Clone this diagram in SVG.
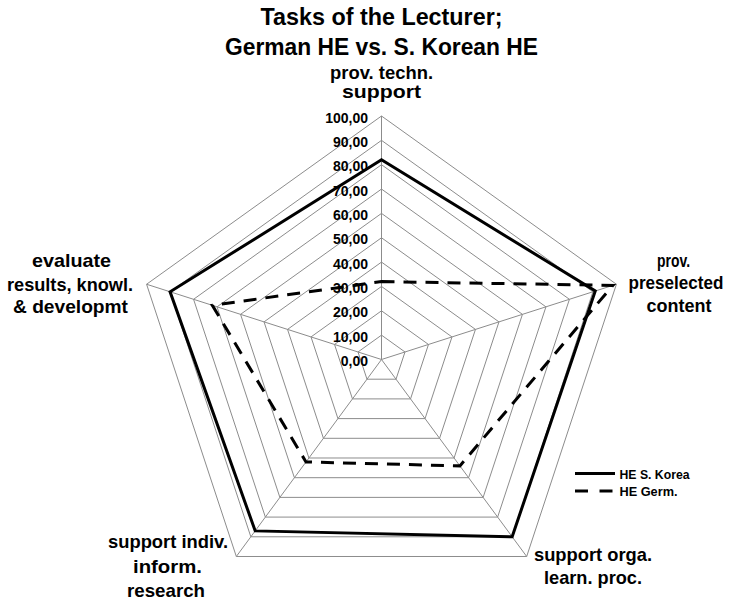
<svg xmlns="http://www.w3.org/2000/svg" width="732" height="604" viewBox="0 0 732 604">
  <style>
    .grid { fill: none; stroke: #8c8c8c; stroke-width: 1; }
    .txt { font-family: "Liberation Sans", Arial, sans-serif; font-weight: bold; fill: #000; }
    .title { font-size: 24.5px; text-anchor: middle; }
    .axis { font-size: 19px; text-anchor: middle; }
    .tick { font-size: 14px; text-anchor: end; }
    .leg { font-size: 12.5px; }
    .series { fill: none; stroke: #000; stroke-width: 3; stroke-linejoin: miter; }
    .dash { stroke-dasharray: 13 9; }
  </style>
  <rect width="732" height="604" fill="#fff"/>

  <!-- title -->
  <g id="title" class="txt title">
    <text x="381.5" y="25" textLength="242" lengthAdjust="spacingAndGlyphs">Tasks of the Lecturer;</text>
    <text x="381.5" y="55" textLength="313" lengthAdjust="spacingAndGlyphs">German HE vs. S. Korean HE</text>
  </g>

  <!-- radar grid: centre (381.5,359.5), rings every 10 units -->
  <g id="grid" class="grid">
    <polygon points="381.5,335.15 404.99,351.98 396.02,379.2 366.98,379.2 358.01,351.98"/>
    <polygon points="381.5,310.8 428.48,344.45 410.54,398.9 352.46,398.9 334.52,344.45"/>
    <polygon points="381.5,286.45 451.97,336.93 425.05,418.6 337.95,418.6 311.03,336.93"/>
    <polygon points="381.5,262.1 475.46,329.4 439.57,438.3 323.43,438.3 287.54,329.4"/>
    <polygon points="381.5,237.75 498.96,321.88 454.09,457.99 308.91,457.99 264.04,321.88"/>
    <polygon points="381.5,213.4 522.45,314.35 468.61,477.69 294.39,477.69 240.55,314.35"/>
    <polygon points="381.5,189.05 545.94,306.83 483.13,497.39 279.87,497.39 217.06,306.83"/>
    <polygon points="381.5,164.7 569.43,299.3 497.64,517.09 265.36,517.09 193.57,299.3"/>
    <polygon points="381.5,140.35 592.92,291.78 512.16,536.79 250.84,536.79 170.08,291.78"/>
    <polygon points="381.5,116 616.41,284.25 526.68,556.49 236.32,556.49 146.59,284.25"/>
    <line x1="381.5" y1="359.5" x2="381.5" y2="116"/>
    <line x1="381.5" y1="359.5" x2="616.41" y2="284.25"/>
    <line x1="381.5" y1="359.5" x2="526.68" y2="556.49"/>
    <line x1="381.5" y1="359.5" x2="236.32" y2="556.49"/>
    <line x1="381.5" y1="359.5" x2="146.59" y2="284.25"/>
  </g>

  <!-- scale labels -->
  <g id="scale" class="txt tick">
    <text x="368" y="122.5">100,00</text>
    <text x="368" y="146.9">90,00</text>
    <text x="368" y="171.2">80,00</text>
    <text x="368" y="195.6">70,00</text>
    <text x="368" y="219.9">60,00</text>
    <text x="368" y="244.3">50,00</text>
    <text x="368" y="268.6">40,00</text>
    <text x="368" y="293">30,00</text>
    <text x="368" y="317.3">20,00</text>
    <text x="368" y="341.7">10,00</text>
    <text x="368" y="366">0,00</text>
  </g>

  <!-- data series -->
  <g id="connectors">
    <polygon id="series-korea" class="series" points="381.5,159.83 595.27,291.02 512.16,536.79 255.19,530.88 170.08,291.78"/>
    <polygon id="series-germany" class="series dash" points="381.5,281.58 612.89,285.38 459.9,465.87 306.01,461.93 212.36,305.32"/>
  </g>

  <!-- axis labels -->
  <g id="axis-top" class="txt axis">
    <text x="381.5" y="78.5" textLength="103" lengthAdjust="spacingAndGlyphs">prov. techn.</text>
    <text x="381.5" y="98" textLength="79" lengthAdjust="spacingAndGlyphs">support</text>
  </g>
  <g id="axis-right" class="txt axis">
    <text x="673.5" y="266.5" textLength="33" lengthAdjust="spacingAndGlyphs">prov.</text>
    <text x="676" y="288.5" font-size="18" textLength="95" lengthAdjust="spacingAndGlyphs">preselected</text>
    <text x="679" y="311.5" textLength="65" lengthAdjust="spacingAndGlyphs">content</text>
  </g>
  <g id="axis-bottom-right" class="txt axis">
    <text x="593" y="560.5" textLength="118" lengthAdjust="spacingAndGlyphs">support orga.</text>
    <text x="593" y="584" textLength="98" lengthAdjust="spacingAndGlyphs">learn. proc.</text>
  </g>
  <g id="axis-bottom-left" class="txt axis">
    <text x="168" y="548" textLength="120" lengthAdjust="spacingAndGlyphs">support indiv.</text>
    <text x="167.5" y="573" textLength="69" lengthAdjust="spacingAndGlyphs">inform.</text>
    <text x="166" y="597" textLength="78" lengthAdjust="spacingAndGlyphs">research</text>
  </g>
  <g id="axis-left" class="txt axis">
    <text x="71.5" y="266.5" textLength="79" lengthAdjust="spacingAndGlyphs">evaluate</text>
    <text x="70" y="291" textLength="126" lengthAdjust="spacingAndGlyphs">results, knowl.</text>
    <text x="70.5" y="313" textLength="115" lengthAdjust="spacingAndGlyphs">&amp; developmt</text>
  </g>

  <!-- legend -->
  <g id="legend">
    <line class="series" x1="575" y1="473.5" x2="615" y2="473.5"/>
    <line class="series" x1="575" y1="491" x2="588" y2="491"/>
    <line class="series" x1="599.5" y1="491" x2="612.5" y2="491"/>
    <text class="txt leg" x="619.5" y="478.5" textLength="70" lengthAdjust="spacingAndGlyphs">HE S. Korea</text>
    <text class="txt leg" x="619.5" y="496" textLength="58" lengthAdjust="spacingAndGlyphs">HE Germ.</text>
  </g>
</svg>
